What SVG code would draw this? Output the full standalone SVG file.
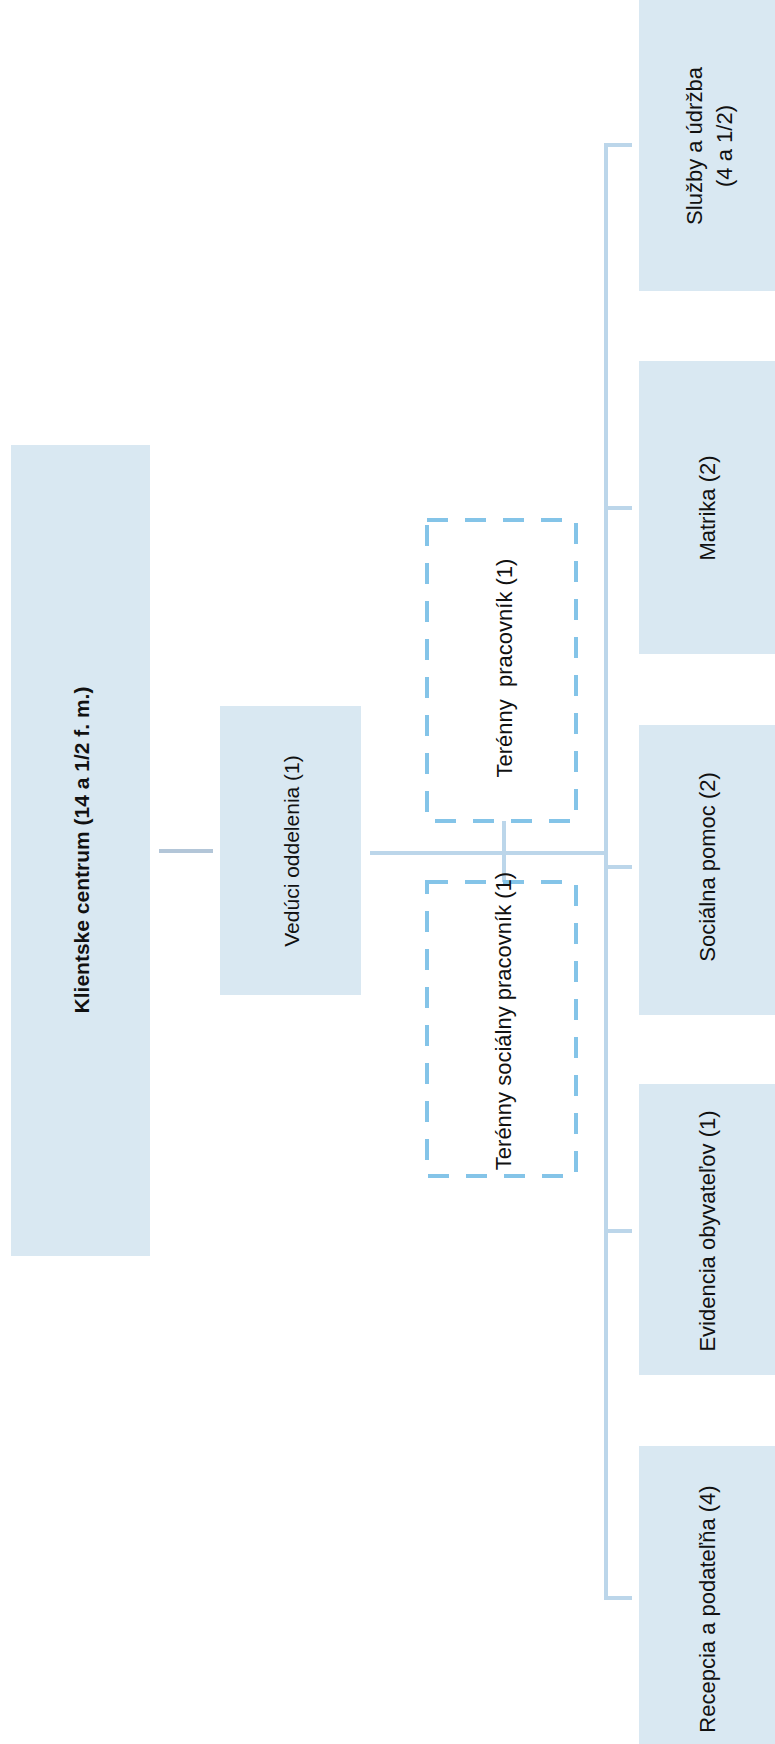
<svg xmlns="http://www.w3.org/2000/svg" width="775" height="1744" viewBox="0 0 775 1744">
<style>
.box{fill:#d9e8f2}
.dash{fill:none;stroke:#84c4e8;stroke-width:4;stroke-dasharray:21 17}
.t{font-family:"Liberation Sans",Arial,sans-serif;font-size:21px;fill:#111;text-anchor:middle}
.r{font-size:22px}
.b{font-weight:bold}
.c{fill:none;stroke:#bcd6ea;stroke-width:4}
.c0{fill:none;stroke:#b3c6d8;stroke-width:4}
</style>
<rect width="775" height="1744" fill="#fff"/>
<g id="connectors">
<line class="c0" x1="159" y1="851" x2="213" y2="851"/>
<line class="c" x1="370" y1="853" x2="606" y2="853"/>
<line class="c" x1="606" y1="145" x2="606" y2="1598"/>
<line class="c" x1="604" y1="145" x2="632" y2="145"/>
<line class="c" x1="604" y1="508" x2="632" y2="508"/>
<line class="c" x1="604" y1="867" x2="632" y2="867"/>
<line class="c" x1="604" y1="1231" x2="632" y2="1231"/>
<line class="c" x1="604" y1="1598" x2="632" y2="1598"/>
<line class="c" x1="504" y1="821" x2="504" y2="882"/>
</g>
<g id="klientske">
<rect class="box" x="11" y="445" width="139" height="811"/>
<text class="t b" transform="translate(81,850) rotate(-90)" dy="0.36em">Klientske centrum (14 a 1/2 f. m.)</text>
</g>
<g id="veduci">
<rect class="box" x="220" y="706" width="141" height="289"/>
<text class="t" transform="translate(291,851) rotate(-90)" dy="0.36em">Vedúci oddelenia (1)</text>
</g>
<g id="terenny">
<rect class="dash" x="427" y="520" width="149" height="301"/>
<text class="t r" transform="translate(504,668) rotate(-90)" dy="0.36em" xml:space="preserve">Terénny  pracovník (1)</text>
</g>
<g id="terenny-socialny">
<rect class="dash" x="427" y="882" width="149" height="294"/>
<text class="t r" transform="translate(503,1021) rotate(-90)" dy="0.36em">Terénny sociálny pracovník (1)</text>
</g>
<g id="sluzby">
<rect class="box" x="639" y="0" width="136" height="291"/>
<text class="t r" transform="translate(694,146) rotate(-90)" dy="0.36em">Služby a údržba</text>
<text class="t r" transform="translate(724,146) rotate(-90)" dy="0.36em">(4 a 1/2)</text>
</g>
<g id="matrika">
<rect class="box" x="639" y="361" width="136" height="293"/>
<text class="t r" transform="translate(707,508) rotate(-90)" dy="0.36em">Matrika (2)</text>
</g>
<g id="socialna">
<rect class="box" x="639" y="725" width="136" height="290"/>
<text class="t r" transform="translate(707,867) rotate(-90)" dy="0.36em">Sociálna pomoc (2)</text>
</g>
<g id="evidencia">
<rect class="box" x="639" y="1084" width="136" height="291"/>
<text class="t r" transform="translate(707,1231) rotate(-90)" dy="0.36em">Evidencia obyvateľov (1)</text>
</g>
<g id="recepcia">
<rect class="box" x="639" y="1446" width="136" height="298"/>
<text class="t r" transform="translate(707,1609) rotate(-90)" dy="0.36em">Recepcia a podateľňa (4)</text>
</g>
</svg>
